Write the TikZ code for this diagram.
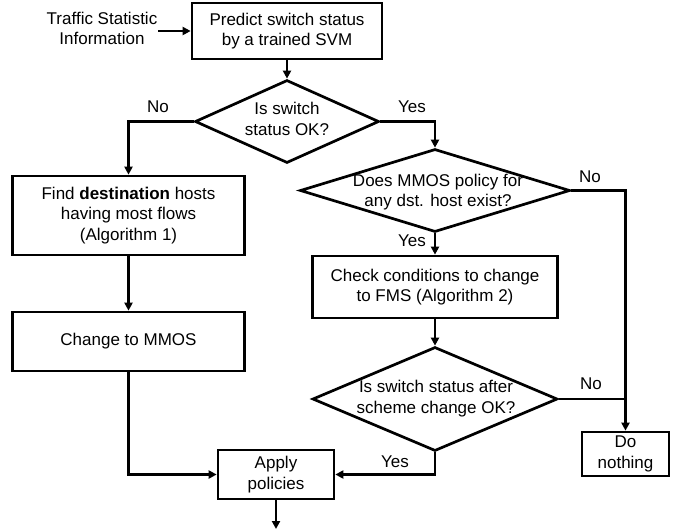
\documentclass[tikz,border=0pt]{standalone}
\usepackage{fontspec}
\setmainfont{Liberation Sans}
\usetikzlibrary{arrows.meta,shapes.geometric}
\begin{document}
\begin{tikzpicture}[x=1pt,y=-1pt,
  every node/.style={font=\fontsize{17}{20.5}\selectfont, align=center},
  stepbox/.style={draw, line width=2.7pt, inner sep=0pt},
  dia/.style={draw, diamond, line width=2.7pt, inner sep=0pt},
  txt/.style={inner sep=1pt},
  arr/.style={line width=2.7pt, -{Triangle[length=8pt,width=8pt]}},
  ln/.style={line width=2.7pt}
]
\useasboundingbox (0,0) rectangle (687,531);

\node[txt] (traffic) at (102,28.5) {Traffic Statistic\\Information};
\node[stepbox, minimum width=190pt, minimum height=56pt] (top) at (287,31) {Predict switch status\\by a trained SVM};

\node[dia, minimum width=184pt, minimum height=83pt] (d1) at (287,121.5) {};
\node[txt] at (287,119) {Is switch\\status OK?};

\node[stepbox, minimum width=232pt, minimum height=79pt] (find) at (128.5,215.5) {Find \textbf{destination} hosts\\having most flows\\(Algorithm 1)};
\node[stepbox, minimum width=232pt, minimum height=59pt] (mmos) at (128.5,341.5) {Change to MMOS};

\node[dia, minimum width=270pt, minimum height=83pt] (d2) at (435,190.5) {};
\node[txt] at (438,192) {Does MMOS policy for\\any dst. host exist?};

\node[stepbox, minimum width=245pt, minimum height=62pt] (check) at (435,287) {Check conditions to change\\to FMS (Algorithm 2)};

\node[dia, minimum width=245pt, minimum height=104pt] (d3) at (435,399) {};
\node[txt] at (436,398.5) {Is switch status after\\scheme change OK?};

\node[stepbox, minimum width=87pt, minimum height=44pt] (dn) at (625.5,454) {Do\\nothing};
\node[stepbox, minimum width=116pt, minimum height=49pt] (apply) at (276,474.5) {Apply\\policies};
\coordinate (out) at (276,529);

\draw[arr] (traffic.east |- top.west) -- (top.west);
\draw[arr] (top.south) -- (d1.north);
\draw[arr] (d1.west) -| (find.north);
\draw[arr] (d1.east) -| (d2.north);
\draw[arr] (d2.east) -| (dn.north);
\draw[arr] (d2.south) -- (check.north);
\draw[arr] (check.south) -- (d3.north);
\draw[ln] (d3.east) -- (d3.east -| dn.north);
\draw[arr] (find.south) -- (mmos.north);
\draw[arr] (mmos.south) |- (apply.west);
\draw[arr] (d3.south) |- (apply.east);
\draw[arr] (apply.south) -- (out);

\node[txt] at (158,107) {No};
\node[txt] at (412,107) {Yes};
\node[txt] at (590,177) {No};
\node[txt] at (412,241) {Yes};
\node[txt] at (591,384) {No};
\node[txt] at (395,462) {Yes};
\end{tikzpicture}
\end{document}
